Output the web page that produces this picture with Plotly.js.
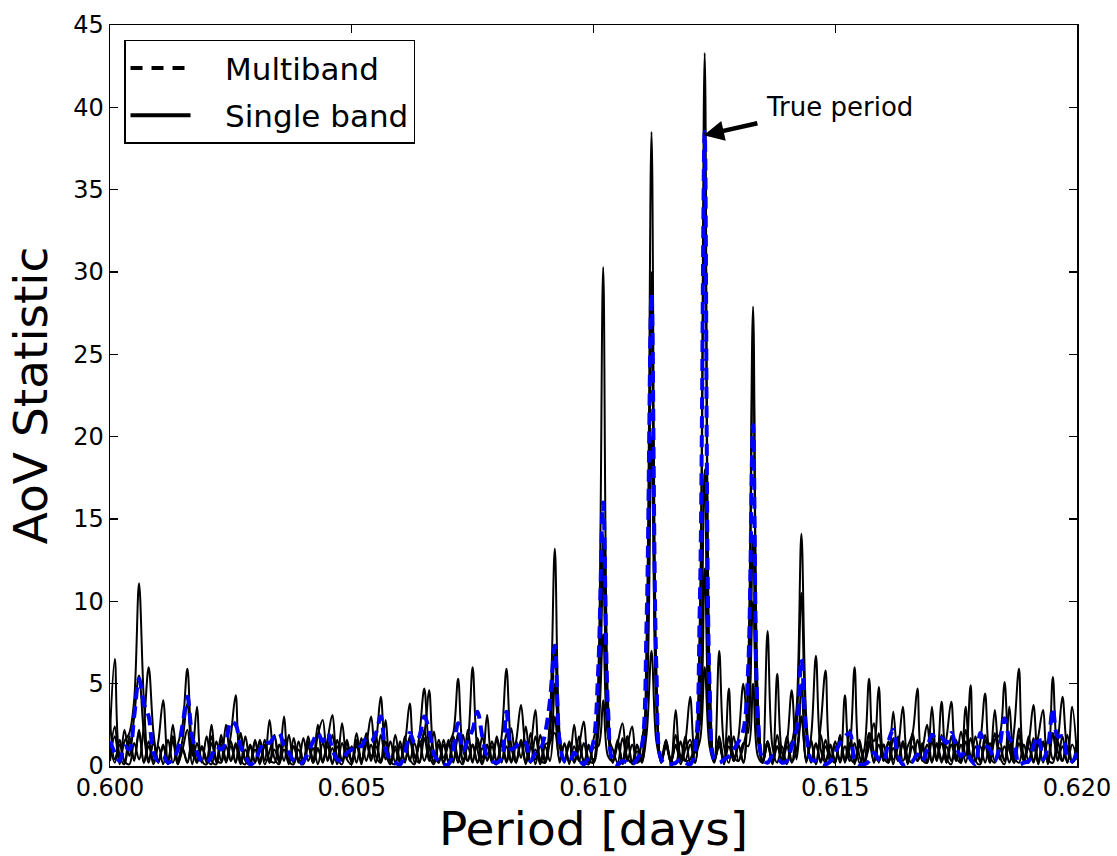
<!DOCTYPE html>
<html>
<head>
<meta charset="utf-8">
<script src="https://cdn.plot.ly/plotly-3.0.1.min.js"></script>
<style>html,body{margin:0;padding:0;background:#fff;}#chart{width:1117px;height:856px;}</style>
</head>
<body>
<div id="chart"></div>
<script>
// Trial periods [days]
const periods = [
0.6000,0.6001,0.6002,0.6003,0.6004,0.6005,0.6006,0.6007,0.6008,0.6009,
0.6010,0.6011,0.6012,0.6013,0.6014,0.6015,0.6016,0.6017,0.6018,0.6019,
0.6020,0.6021,0.6022,0.6023,0.6024,0.6025,0.6026,0.6027,0.6028,0.6029,
0.6030,0.6031,0.6032,0.6033,0.6034,0.6035,0.6036,0.6037,0.6038,0.6039,
0.6040,0.6041,0.6042,0.6043,0.6044,0.6045,0.6046,0.6047,0.6048,0.6049,
0.6050,0.6051,0.6052,0.6053,0.6054,0.6055,0.6056,0.6057,0.6058,0.6059,
0.6060,0.6061,0.6062,0.6063,0.6064,0.6065,0.6066,0.6067,0.6068,0.6069,
0.6070,0.6071,0.6072,0.6073,0.6074,0.6075,0.6076,0.6077,0.6078,0.6079,
0.6080,0.6081,0.6082,0.6083,0.6084,0.6085,0.6086,0.6087,0.6088,0.6089,
0.6090,0.6091,0.6092,0.6093,0.6094,0.6095,0.6096,0.6097,0.6098,0.6099,
0.6100,0.6101,0.6102,0.6103,0.6104,0.6105,0.6106,0.6107,0.6108,0.6109,
0.6110,0.6111,0.6112,0.6113,0.6114,0.6115,0.6116,0.6117,0.6118,0.6119,
0.6120,0.6121,0.6122,0.6123,0.6124,0.6125,0.6126,0.6127,0.6128,0.6129,
0.6130,0.6131,0.6132,0.6133,0.6134,0.6135,0.6136,0.6137,0.6138,0.6139,
0.6140,0.6141,0.6142,0.6143,0.6144,0.6145,0.6146,0.6147,0.6148,0.6149,
0.6150,0.6151,0.6152,0.6153,0.6154,0.6155,0.6156,0.6157,0.6158,0.6159,
0.6160,0.6161,0.6162,0.6163,0.6164,0.6165,0.6166,0.6167,0.6168,0.6169,
0.6170,0.6171,0.6172,0.6173,0.6174,0.6175,0.6176,0.6177,0.6178,0.6179,
0.6180,0.6181,0.6182,0.6183,0.6184,0.6185,0.6186,0.6187,0.6188,0.6189,
0.6190,0.6191,0.6192,0.6193,0.6194,0.6195,0.6196,0.6197,0.6198,0.6199,
0.6200];

// Single-band AoV periodograms
const band1 = [
2.0,6.5,0.6,0.1,1.5,0.4,2.2,0.2,1.2,0.1,
1.5,4.0,0.3,1.8,0.1,1.0,2.2,0.1,1.4,0.2,
1.8,0.3,0.1,1.6,0.3,1.9,4.3,0.4,0.1,1.2,
0.2,1.5,0.1,0.9,1.8,0.2,1.0,0.1,1.7,0.3,
0.1,1.2,0.2,1.9,2.8,0.3,1.1,0.1,1.4,0.4,
0.1,1.6,0.2,2.0,0.6,1.5,4.2,0.8,0.1,1.0,
0.2,1.8,0.3,1.4,0.2,2.2,0.6,0.1,1.3,0.2,
1.6,0.2,2.0,0.4,1.5,6.0,1.0,0.1,1.2,0.3,
1.8,0.2,2.0,0.3,1.5,0.5,2.4,0.2,1.0,0.1,
1.2,0.3,3.0,0.2,1.4,0.1,2.5,0.4,0.1,1.3,
0.2,2.8,14.0,2.0,0.2,1.5,0.3,1.8,0.1,0.9,
0.2,5.0,30.0,4.5,0.4,1.6,0.2,1.2,0.3,1.8,
0.2,1.0,9.0,43.3,6.0,0.3,1.4,0.1,1.8,0.3,
1.2,0.2,5.0,25.0,3.5,0.2,8.2,1.2,0.2,1.2,
0.1,1.5,1.0,5.0,0.4,1.4,0.1,2.5,5.8,0.6,
0.2,1.8,0.3,2.2,0.1,1.6,0.2,1.2,2.6,0.2,
1.3,0.3,3.3,0.4,1.5,0.1,2.0,0.3,1.4,0.2,
1.8,0.3,3.9,0.5,0.1,1.6,0.2,2.2,0.3,1.2,
0.2,1.9,0.3,3.4,0.6,0.1,1.7,0.2,2.3,0.4,
1.4,3.7,0.3,1.5,0.1,2.0,0.3,1.8,0.2,1.3,
0.4];

const band2 = [
0.3,1.8,0.1,2.2,0.6,3.0,5.5,2.0,0.2,1.5,
0.3,1.2,0.1,2.5,0.4,1.6,3.8,0.6,3.6,0.3,
0.1,1.4,0.3,1.9,0.2,1.2,0.2,2.0,0.3,0.1,
1.6,0.2,1.3,0.2,1.9,0.4,3.0,0.3,0.1,1.5,
0.3,1.8,0.2,1.0,0.2,1.6,3.1,0.5,0.1,1.4,
0.3,2.0,0.2,1.5,0.3,1.8,0.2,1.1,0.1,1.9,
0.4,1.4,3.8,0.6,0.2,1.7,0.3,2.1,0.2,1.3,
0.2,1.8,0.5,0.1,2.2,0.3,1.5,0.2,3.1,0.4,
0.1,1.6,0.3,2.3,0.2,1.4,0.1,2.0,0.4,1.2,
0.2,3.0,13.2,2.0,0.2,1.3,0.3,1.8,0.2,1.1,
0.3,5.5,30.3,4.0,0.2,1.6,0.1,1.2,2.4,0.2,
0.6,5.0,29.0,4.0,0.2,1.5,0.3,1.9,0.1,1.0,
1.6,0.2,3.5,18.0,2.5,0.4,7.0,1.2,0.2,1.8,
0.3,1.2,2.8,14.0,1.8,0.2,1.5,0.1,1.2,0.3,
1.4,4.6,0.4,3.0,0.2,1.6,0.1,1.9,0.3,1.2,
0.2,1.8,0.3,1.2,6.0,0.6,0.1,1.5,0.2,2.0,
0.3,1.4,0.1,1.8,0.3,1.2,2.0,4.7,0.4,0.2,
1.5,0.3,1.9,0.2,1.3,0.3,2.1,0.6,4.9,0.3,
0.1,1.6,0.2,2.0,0.4,1.2,0.2,2.2,5.9,0.6,
0.2,1.7,0.1,1.4,0.3,2.0,0.4,1.2,0.2,3.6,
0.6];

const band3 = [
1.2,0.2,1.6,0.3,0.1,1.4,0.4,2.5,6.0,2.0,
0.2,1.3,0.1,1.8,0.3,1.1,0.2,1.7,0.2,1.2,
0.4,0.1,1.5,0.3,2.5,0.3,1.2,0.2,1.8,0.2,
1.0,0.1,1.6,0.4,0.2,1.3,0.3,1.9,0.2,1.0,
0.2,1.5,0.4,2.5,0.3,1.2,0.1,1.6,0.3,1.1,
0.2,1.4,0.1,1.7,0.4,1.2,0.3,2.8,0.3,0.1,
1.5,0.2,1.8,0.5,1.3,2.0,4.6,0.8,0.2,1.6,
0.3,1.1,0.2,1.9,0.3,1.3,0.2,1.8,0.3,1.2,
0.2,1.8,5.9,1.2,0.2,1.6,0.3,1.2,0.1,1.9,
0.4,2.0,7.0,1.5,0.3,1.4,0.2,1.1,0.3,0.1,
1.6,3.0,12.0,2.2,0.3,1.3,0.2,1.8,0.2,1.2,
0.3,8.0,38.5,6.0,0.2,1.2,0.4,0.1,1.5,0.3,
1.3,0.2,7.5,37.0,5.0,0.3,1.5,0.2,1.2,0.3,
1.8,5.0,2.0,10.0,1.6,0.2,1.3,0.2,1.9,0.3,
1.2,0.2,1.0,3.0,0.3,1.8,6.7,1.0,0.2,1.3,
0.3,1.9,0.2,1.4,0.3,1.2,0.2,2.0,1.5,4.8,
0.6,0.2,1.7,0.3,1.3,0.2,1.8,0.3,1.2,0.2,
3.6,0.5,1.4,0.2,1.8,0.3,1.3,0.2,1.7,0.4,
1.5,4.4,0.6,0.2,1.6,0.3,1.3,0.2,1.9,0.3,
1.1,0.2,1.8,3.4,0.4,0.2,1.5,0.3,1.9,0.2,
1.2];

const band4 = [
2.8,0.4,1.3,0.2,1.8,0.3,2.0,0.2,1.5,0.3,
1.2,0.1,1.6,0.2,1.3,2.5,5.9,1.2,0.2,1.2,
0.3,1.8,0.2,1.3,0.3,1.5,0.2,2.0,0.4,1.3,
0.2,1.6,0.3,2.8,0.5,0.1,1.5,0.3,1.2,0.2,
1.7,0.3,1.1,0.1,1.4,0.4,1.9,0.2,2.6,0.5,
1.2,0.2,1.7,0.3,1.3,0.2,1.9,0.4,1.5,0.2,
1.2,0.3,1.6,0.2,1.9,4.7,1.2,0.3,1.3,0.1,
1.5,0.3,1.8,0.2,1.2,0.2,1.7,0.5,1.3,0.2,
1.6,0.3,1.2,0.2,1.5,3.7,1.0,0.2,1.8,0.3,
1.3,1.5,5.0,1.2,0.3,1.5,0.2,1.2,2.7,0.4,
0.2,2.0,8.0,1.8,1.0,0.2,1.7,0.3,1.3,0.2,
1.5,4.0,20.0,3.5,0.3,1.3,0.2,3.4,0.6,0.3,
0.4,1.5,2.5,12.0,2.0,0.3,1.2,0.2,1.8,0.3,
1.3,0.2,6.0,27.9,4.0,0.3,1.5,0.2,1.2,0.3,
1.8,0.3,2.5,10.5,2.0,0.2,1.3,0.3,1.6,0.2,
1.2,0.4,4.3,0.6,0.2,1.4,0.3,1.9,0.2,1.3,
0.3,1.5,0.4,1.2,3.6,0.5,0.2,1.6,0.3,1.3,
0.2,1.4,0.4,1.7,3.9,0.6,0.2,1.5,0.3,1.8,
0.3,1.2,0.2,1.6,1.9,5.1,1.0,0.2,1.4,0.3,
1.8,0.3,1.3,0.2,1.6,0.4,1.5,4.2,1.0,0.3,
1.5];

const band5 = [
0.6,2.4,0.2,1.5,2.0,4.0,11.1,4.0,0.4,1.4,
0.2,1.2,0.3,1.5,0.1,1.0,0.2,1.4,0.3,1.1,
0.2,2.5,0.4,0.2,1.2,0.3,1.4,0.1,1.0,0.3,
1.5,0.3,1.2,0.2,1.0,0.3,1.6,0.2,1.2,0.4,
0.3,1.3,0.2,1.1,0.3,1.5,0.2,1.2,0.3,1.6,
0.2,1.2,0.4,1.3,3.0,0.6,0.2,1.5,0.3,1.2,
0.2,1.4,0.4,0.1,1.5,0.3,1.2,0.2,1.6,0.5,
1.3,2.0,5.3,1.0,0.3,1.3,0.2,1.1,0.4,1.5,
0.3,1.3,0.2,1.2,0.3,1.5,0.2,1.2,3.4,0.4,
0.2,1.4,2.0,0.4,1.3,0.2,1.2,0.3,1.4,0.2,
1.1,1.2,4.0,0.6,0.3,1.4,2.6,0.5,0.2,1.3,
0.3,2.0,7.0,1.5,0.3,1.2,0.2,1.3,0.4,1.5,
4.2,0.8,1.5,6.0,1.2,0.2,1.8,0.3,4.7,0.6,
0.3,1.4,1.2,5.0,0.6,0.2,1.5,0.4,5.6,0.8,
0.2,1.3,3.5,14.1,3.0,0.3,1.4,0.2,1.2,0.3,
1.5,0.2,1.2,0.3,1.4,0.2,1.0,5.3,0.8,0.3,
1.3,0.2,1.1,0.3,1.5,0.2,1.2,0.3,1.0,2.5,
0.3,1.3,0.2,1.2,0.3,1.4,0.2,3.6,0.6,0.3,
1.2,0.2,1.4,0.3,1.1,0.3,3.6,0.6,0.2,1.3,
0.3,1.2,0.2,1.4,0.4,5.4,0.9,0.3,1.2,0.2,
0.6];

// Multiband AoV periodogram
const multiband = [
1.5,0.8,0.3,1.2,1.0,3.0,5.3,3.8,3.0,0.8,
0.3,0.6,0.2,0.4,1.0,2.5,4.2,1.8,0.8,0.3,
0.2,0.6,1.2,1.0,1.5,2.7,2.5,1.2,0.6,0.1,
0.3,1.0,1.5,1.4,1.8,2.0,1.2,0.8,0.3,0.1,
0.3,0.8,1.5,2.0,1.5,2.0,1.0,0.4,0.3,0.8,
1.0,1.3,1.2,1.7,1.5,2.0,3.0,1.0,0.4,0.2,
0.1,0.8,2.0,1.4,1.8,3.0,2.2,0.7,0.3,0.1,
0.1,1.0,2.6,0.9,1.6,2.2,3.3,1.8,0.6,0.3,
0.2,0.5,3.3,1.0,1.2,1.5,1.4,0.3,0.8,1.0,
2.0,4.0,7.3,1.5,0.3,0.2,0.8,0.4,0.1,0.6,
1.5,6.0,16.0,3.5,0.3,0.1,0.3,0.2,0.1,0.4,
1.2,9.0,28.7,6.0,0.4,0.1,0.1,0.2,0.4,0.2,
0.1,1.0,10.0,38.5,5.0,0.4,0.2,0.4,0.6,1.0,
1.5,2.2,6.0,20.7,3.0,0.4,0.2,0.6,0.5,0.2,
0.3,1.2,2.2,6.5,2.0,0.4,0.3,0.2,0.1,0.3,
0.8,1.4,1.8,2.0,0.4,0.1,0.1,0.3,0.8,0.4,
0.3,1.5,2.2,0.6,0.1,0.2,0.3,0.7,0.3,1.0,
1.9,1.6,1.7,1.4,2.0,1.2,0.6,0.9,0.4,0.1,
2.0,1.3,1.0,0.3,1.2,2.9,1.7,1.3,0.1,0.2,
0.3,1.2,1.8,0.4,1.2,3.5,1.8,1.8,0.6,0.3,
0.8];

const singleBands = [band1, band2, band3, band4, band5];
const xTickVals = [0.600, 0.605, 0.610, 0.615, 0.620];
const xTickText = ['0.600', '0.605', '0.610', '0.615', '0.620'];
const yTickVals = [0, 5, 10, 15, 20, 25, 30, 35, 40, 45];
const legendNames = ['Multiband', 'Single band'];
const trueLabel = 'True period';
const truePeriod = [0.61228, 38.3];
const labelPos = [0.61352, 40.0];

const FONT = 'DejaVu Sans, Liberation Sans, sans-serif';
const NB = '\u00a0\u00a0\u00a0';
const traces = [];
singleBands.forEach(function (b) {
  traces.push({
    x: periods, y: b, type: 'scatter', mode: 'lines',
    line: {color: '#000000', width: 2, shape: 'spline', smoothing: 1},
    showlegend: false, hoverinfo: 'skip'
  });
});
traces.push({
  x: periods, y: multiband, type: 'scatter', mode: 'lines',
  line: {color: '#0000ff', width: 4, dash: '12px,7px', shape: 'spline', smoothing: 1},
  showlegend: false, hoverinfo: 'skip'
});
// legend entries (drawn in black as in the reference legend)
traces.push({x: [null], y: [null], type: 'scatter', mode: 'lines', name: NB + legendNames[0],
  legendgroup: 'm', line: {color: '#000000', width: 4, dash: '12px,9px'}});
traces.push({x: [null], y: [null], type: 'scatter', mode: 'lines', name: NB + legendNames[1],
  legendgroup: 's', line: {color: '#000000', width: 4}});

const axisCommon = {
  showline: true, linecolor: '#000000', linewidth: 1.5, mirror: 'ticks',
  ticks: 'inside', ticklen: 8, tickwidth: 1.2, tickcolor: '#000000',
  showgrid: false, zeroline: false, automargin: false,
  tickfont: {family: FONT, size: 24, color: '#000000'}
};

const layout = {
  width: 1117, height: 856,
  margin: {l: 110, r: 40, t: 25, b: 90, pad: 0},
  paper_bgcolor: '#ffffff', plot_bgcolor: '#ffffff',
  font: {family: FONT, color: '#000000'},
  xaxis: Object.assign({}, axisCommon, {
    range: [0.600, 0.620], tickvals: xTickVals, ticktext: xTickText,
    title: {text: 'Period [days]', font: {family: FONT, size: 47, color: '#000000'}, standoff: 4}
  }),
  yaxis: Object.assign({}, axisCommon, {
    range: [0, 45], tickvals: yTickVals,
    title: {text: 'AoV Statistic', font: {family: FONT, size: 47, color: '#000000'}, standoff: 10}
  }),
  legend: {
    x: 0.0145, y: 0.98, xanchor: 'left', yanchor: 'top',
    bgcolor: '#ffffff', bordercolor: '#000000', borderwidth: 1.5,
    font: {family: FONT, size: 31, color: '#000000'}, itemwidth: 60, tracegroupgap: 4
  },
  annotations: [
    {x: truePeriod[0], y: truePeriod[1], xref: 'x', yref: 'y',
     ax: 0.61342, ay: 39.05, axref: 'x', ayref: 'y',
     text: '', showarrow: true, arrowhead: 2, arrowsize: 0.9, arrowwidth: 4.5, arrowcolor: '#000000'},
    {x: labelPos[0], y: labelPos[1], xref: 'x', yref: 'y', xanchor: 'left', yanchor: 'middle',
     text: trueLabel, showarrow: false, font: {family: FONT, size: 26, color: '#000000'}}
  ]
};

Plotly.newPlot('chart', traces, layout, {displayModeBar: false, staticPlot: true});
</script>
</body>
</html>
